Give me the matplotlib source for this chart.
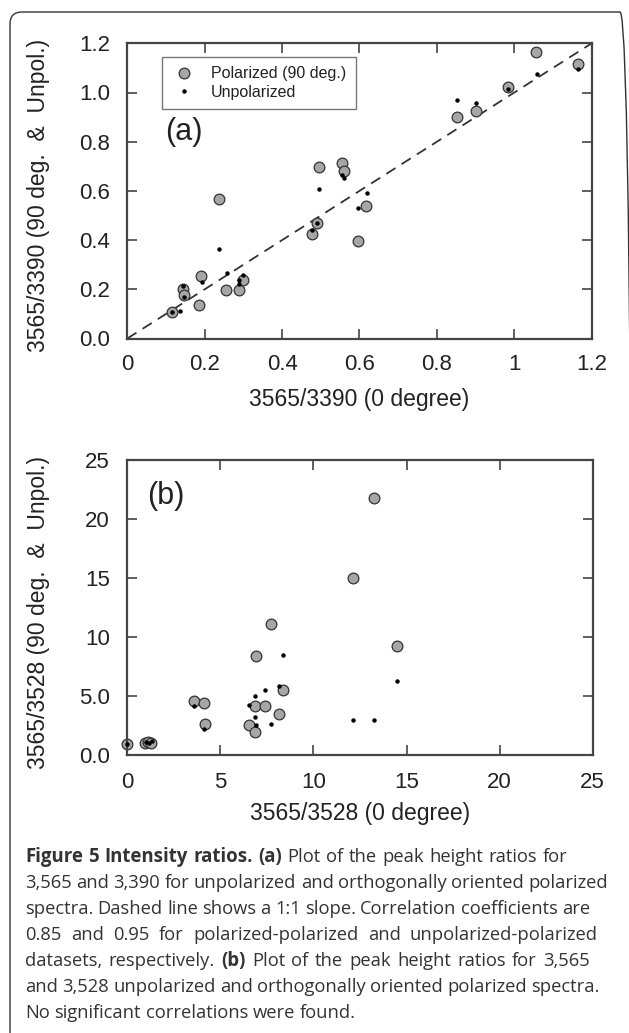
import matplotlib
matplotlib.use("Agg")
import matplotlib.pyplot as plt
from matplotlib.patches import FancyBboxPatch
from matplotlib.transforms import IdentityTransform

plt.rcParams['font.family'] = ['Liberation Sans', 'DejaVu Sans']

# panel (a): 3565/3390 ratios
a_pol_x = [0.115, 0.143, 0.147, 0.184, 0.190, 0.238, 0.255, 0.289, 0.300,
           0.478, 0.489, 0.495, 0.554, 0.561, 0.596, 0.618,
           0.851, 0.901, 0.983, 1.056, 1.164]
a_pol_y = [0.108, 0.203, 0.176, 0.136, 0.255, 0.569, 0.199, 0.197, 0.237,
           0.424, 0.468, 0.696, 0.715, 0.682, 0.397, 0.537,
           0.902, 0.925, 1.024, 1.165, 1.115]
a_unp_x = [0.115, 0.136, 0.143, 0.147, 0.192, 0.238, 0.257, 0.288, 0.288, 0.300,
           0.478, 0.489, 0.495, 0.556, 0.561, 0.596, 0.619,
           0.851, 0.901, 0.983, 1.058, 1.164]
a_unp_y = [0.108, 0.111, 0.214, 0.169, 0.231, 0.365, 0.267, 0.237, 0.221, 0.260,
           0.441, 0.471, 0.606, 0.663, 0.654, 0.529, 0.591,
           0.968, 0.957, 1.016, 1.075, 1.096]

# panel (b): 3565/3528 ratios
b_pol_x = [0.0, 0.95, 1.1, 1.25, 3.58, 4.14, 4.19, 6.55, 6.84, 6.88, 7.38,
           6.93, 7.72, 8.15, 8.35, 12.1, 13.25, 14.47]
b_pol_y = [0.93, 1.05, 1.1, 1.0, 4.6, 4.41, 2.60, 2.57, 1.95, 4.18, 4.18,
           8.42, 11.07, 3.50, 5.54, 15.03, 21.75, 9.27]
b_unp_x = [0.0, 1.0, 1.15, 1.3, 3.58, 4.14, 6.55, 6.86, 6.84, 6.93, 7.38,
           7.72, 8.15, 8.35, 12.1, 13.25, 14.47]
b_unp_y = [0.93, 1.1, 1.05, 1.15, 4.18, 2.18, 4.24, 5.0, 3.19, 2.51, 5.54,
           2.60, 5.88, 8.50, 2.99, 2.94, 6.24]

a_ticks = [0, 0.2, 0.4, 0.6, 0.8, 1.0, 1.2]
a_xticklabels = ["0", "0.2", "0.4", "0.6", "0.8", "1", "1.2"]
a_yticklabels = ["0.0", "0.2", "0.4", "0.6", "0.8", "1.0", "1.2"]
b_ticks = [0, 5, 10, 15, 20, 25]
b_xticklabels = ["0", "5", "10", "15", "20", "25"]
b_yticklabels = ["0.0", "5.0", "10", "15", "20", "25"]

caption_lines = [
    "*Figure *5 *Intensity *ratios. *(a) Plot of the peak height ratios for",
    "3,565 and 3,390 for unpolarized and orthogonally oriented polarized",
    "spectra. Dashed line shows a 1:1 slope. Correlation coefficients are",
    "0.85 and 0.95 for polarized-polarized and unpolarized-polarized",
    "datasets, respectively. *(b) Plot of the peak height ratios for 3,565",
    "and 3,528 unpolarized and orthogonally oriented polarized spectra.",
    "No significant correlations were found.",
]
# right end (px) each line is set to; None = natural spacing
caption_right = [567, 608, 590, 598, 590, 595, None]

W, H = 629, 1033
fig = plt.figure(figsize=(W / 100, H / 100), dpi=100)

pol_style = dict(ls="none", marker="o", ms=7.7, mfc="#a6a6a6", mec="#333333", mew=0.9)
unp_style = dict(ls="none", marker="o", ms=3.2, mfc="black", mec="black", mew=0)


def style_axes(ax, ticks, xlabels, ylabels):
    for s in ax.spines.values():
        s.set_linewidth(1.6)
        s.set_color("#444444")
    ax.set_xticks(ticks)
    ax.set_yticks(ticks)
    ax.set_xticklabels(xlabels)
    ax.set_yticklabels(ylabels)
    ax.set_xlim(ticks[0], ticks[-1])
    ax.set_ylim(ticks[0], ticks[-1])
    ax.tick_params(direction="in", length=7, width=1.2, color="#444444",
                   top=True, right=True, labelsize=16, labelcolor="#222222")
    ax.tick_params(axis="x", pad=11)
    ax.tick_params(axis="y", pad=12.5)


# panel (a)
ax_a = fig.add_axes([127.3 / W, 1 - 338.5 / H, 464.4 / W, 295.2 / H])
ax_a.plot([0, 1.2], [0, 1.2], ls=(0, (6, 4)), color="#333333", lw=1.3, zorder=1)
ax_a.plot(a_pol_x, a_pol_y, label="Polarized (90 deg.)", zorder=2, **pol_style)
ax_a.plot(a_unp_x, a_unp_y, label="Unpolarized", zorder=3, **unp_style)
style_axes(ax_a, a_ticks, a_xticklabels, a_yticklabels)
ax_a.set_xlabel("3565/3390 (0 degree)", fontsize=16.5, labelpad=9.5, color="#222222")
ax_a.set_ylabel("3565/3390 (90 deg.  &  Unpol.)", fontsize=16.5, color="#222222")
ax_a.yaxis.set_label_coords(-0.166, 0.483)
ax_a.text(0.081, 0.698, "(a)", transform=ax_a.transAxes, fontsize=22,
          va="center", ha="left", color="#222222")
leg = ax_a.legend(loc="upper left", bbox_to_anchor=(0.074, 0.9545), borderaxespad=0,
                  fontsize=11.5, frameon=True, fancybox=False, borderpad=0.6,
                  handlelength=1.6, handletextpad=0.9, labelspacing=0.2,
                  numpoints=1)
leg.get_frame().set_edgecolor("#555555")
leg.get_frame().set_linewidth(1.0)
for t in leg.get_texts():
    t.set_color("#222222")

# panel (b)
ax_b = fig.add_axes([127.3 / W, 1 - 755.0 / H, 465.4 / W, 295.0 / H])
ax_b.plot(b_pol_x, b_pol_y, zorder=2, clip_on=False, **pol_style)
ax_b.plot(b_unp_x, b_unp_y, zorder=3, clip_on=False, **unp_style)
style_axes(ax_b, b_ticks, b_xticklabels, b_yticklabels)
ax_b.tick_params(axis="x", pad=12)
ax_b.set_xlabel("3565/3528 (0 degree)", fontsize=16.5, labelpad=7, color="#222222")
ax_b.set_ylabel("3565/3528 (90 deg.  &  Unpol.)", fontsize=16.5, color="#222222")
ax_b.yaxis.set_label_coords(-0.166, 0.483)
ax_b.text(0.0417, 0.879, "(b)", transform=ax_b.transAxes, fontsize=22,
          va="center", ha="left", color="#222222")

# outer rounded frame
frame = FancyBboxPatch((10, -12), 622, H, boxstyle="round,pad=0,rounding_size=12",
                       transform=IdentityTransform(), fill=False, ec="#333333", lw=1.0)
fig.add_artist(frame)

# caption, set word by word
cap_font = ["Open Sans", "DejaVu Sans"]
renderer = fig.canvas.get_renderer()


def text_width(s, weight, size):
    t = fig.text(0, 0, s, fontsize=size, fontweight=weight, family=cap_font)
    w = t.get_window_extent(renderer).width
    t.remove()
    return w


def parse(line):
    words = []
    for w in line.split(" "):
        if w.startswith("*"):
            words.append((w[1:], "bold"))
        else:
            words.append((w, "normal"))
    return words


cap_left = 25.0
# regular size fitted to line 2, bold size to the bold run of line 1
cap_size = 12 * (caption_right[1] - cap_left) / text_width(caption_lines[1], "normal", 12)
bold_size = 12 * 255 / text_width("Figure 5 Intensity ratios. (a)", "bold", 12)
space_w = text_width("x x", "normal", cap_size) - text_width("xx", "normal", cap_size)

baseline0, line_step = 861.7, 26.0
for i, line in enumerate(caption_lines):
    words = parse(line)
    sizes = [bold_size if wt == "bold" else cap_size for w, wt in words]
    widths = [text_width(w, wt, s) for (w, wt), s in zip(words, sizes)]
    gap = space_w
    if caption_right[i] is not None and len(words) > 1:
        gap = (caption_right[i] - cap_left - sum(widths)) / (len(words) - 1)
        gap = max(gap, space_w * 0.9)
    x = cap_left
    y = baseline0 + i * line_step
    for (w, wt), ww, s in zip(words, widths, sizes):
        fig.text(x / W, 1 - y / H, w, fontsize=s, fontweight=wt,
                 family=cap_font, va="baseline", ha="left", color="#333333")
        x += ww + gap

fig.savefig("out.png", dpi=100)
